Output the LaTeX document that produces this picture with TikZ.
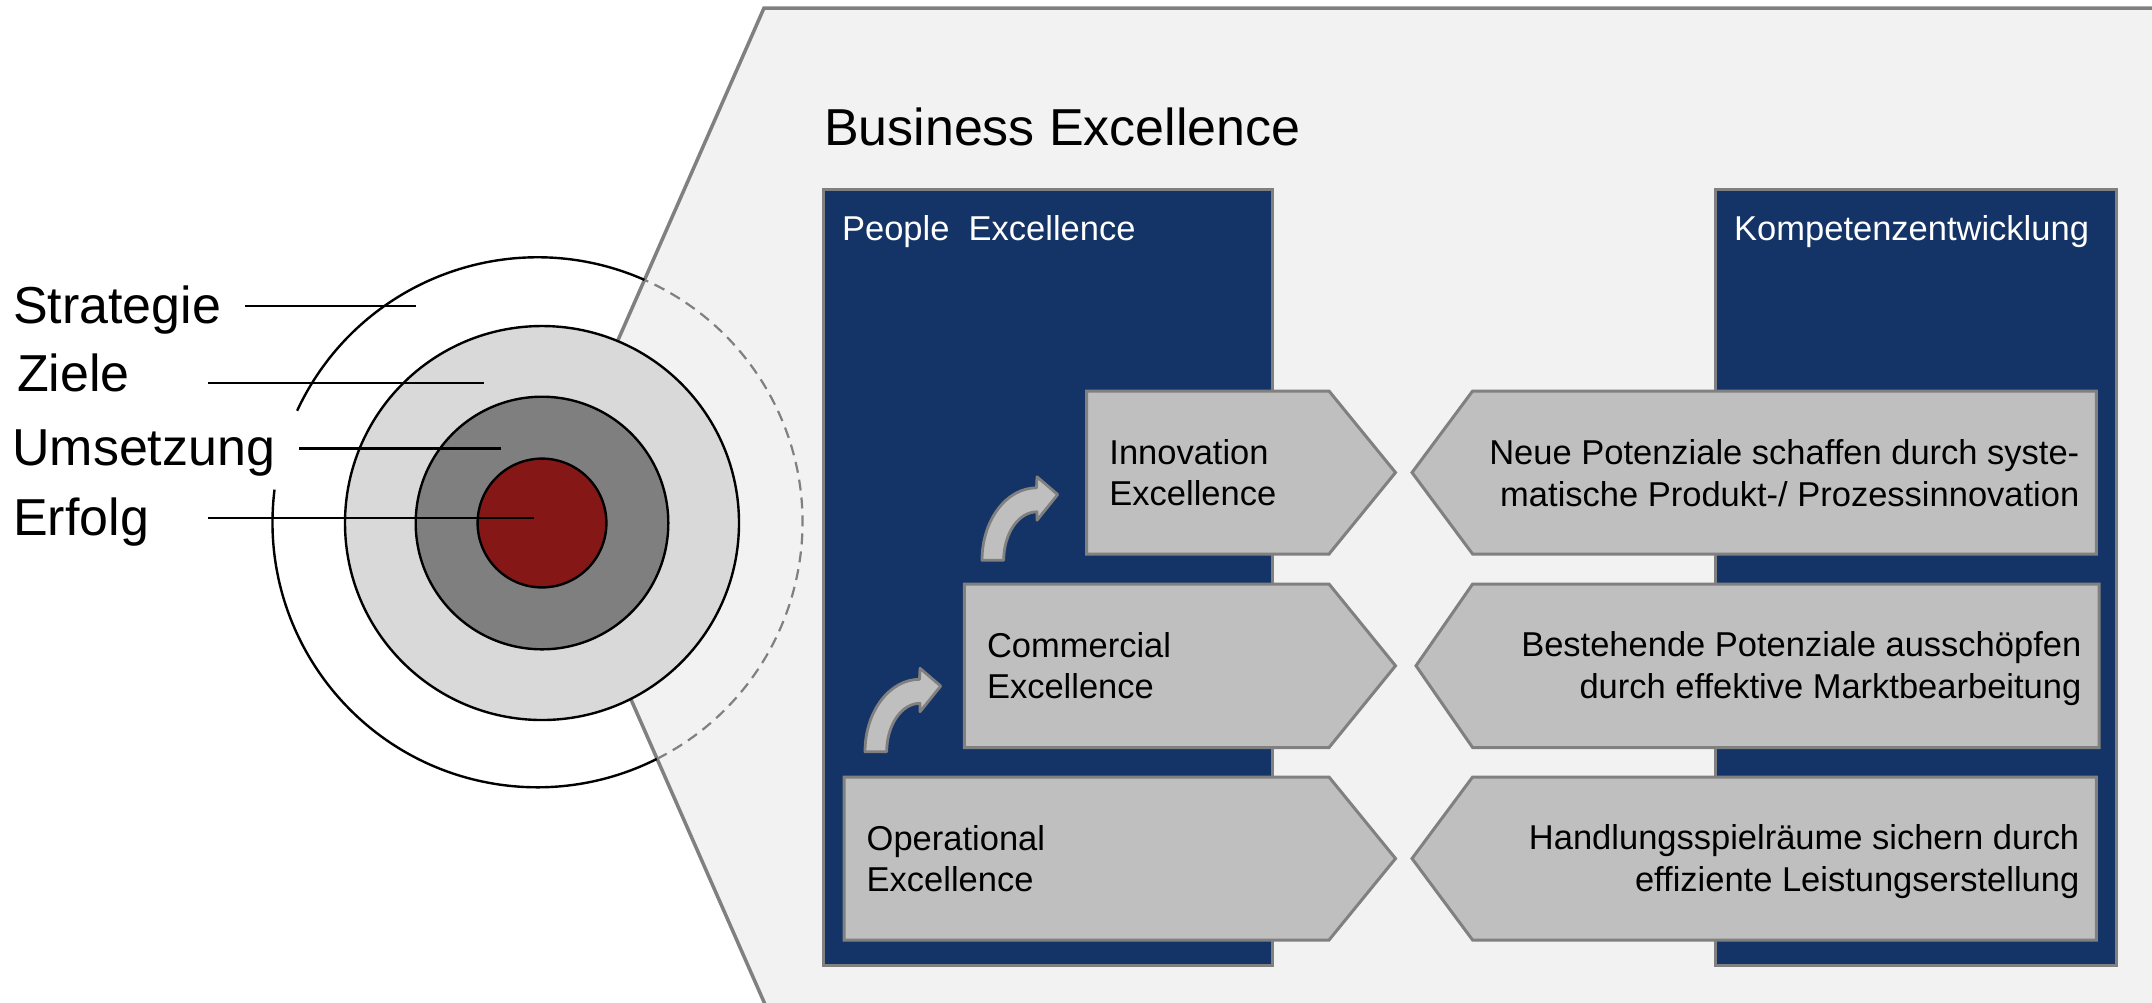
\documentclass[tikz,border=0pt]{standalone}
\usepackage{fontspec}
\setmainfont{Liberation Sans}
\definecolor{panelgrey}{HTML}{F2F2F2}
\definecolor{edgegrey}{HTML}{808080}
\definecolor{navy}{RGB}{20,51,102}
\definecolor{chevfill}{HTML}{BFBFBF}
\definecolor{ringlight}{HTML}{D9D9D9}
\definecolor{ringdark}{HTML}{7F7F7F}
\definecolor{corered}{RGB}{134,23,23}
\tikzset{
  panel/.style={fill=panelgrey, draw=edgegrey, line width=0.035cm, line join=miter},
  column/.style={fill=navy, draw=edgegrey, line width=0.03cm},
  chev/.style={fill=chevfill, draw=edgegrey, line width=0.03cm, line join=miter},
  arrowshape/.style={fill=chevfill, draw=edgegrey, line width=0.028cm, line join=round},
  ringline/.style={draw=black, line width=0.024cm},
  dashring/.style={draw=edgegrey, line width=0.022cm, dash pattern=on 0.11cm off 0.07cm},
  leader/.style={draw=black, line width=0.024cm},
  bigtxt/.style={font=\fontsize{14.78pt}{17.5pt}\selectfont, inner sep=0pt, anchor=base west},
  coltxt/.style={font=\fontsize{9.81pt}{11.8pt}\selectfont, text=white, inner sep=0pt, anchor=base west},
  chevtxtL/.style={font=\fontsize{9.81pt}{11.8pt}\selectfont, inner sep=0pt, anchor=west, align=left},
  chevtxtR/.style={font=\fontsize{9.81pt}{11.8pt}\selectfont, inner sep=0pt, anchor=east, align=right},
  bentarrow/.pic={
    \path[arrowshape] (0,0) .. controls (0,-40) and (24.4,-72.4) .. (54.5,-72.4)
      -- (55,-83.4) -- (75.7,-65.7) -- (55,-40) -- (55,-48.4)
      .. controls (36.6,-48.4) and (21.7,-26.7) .. (21.7,0) -- cycle;
  }
}
\begin{document}
\begin{tikzpicture}[x=0.01cm, y=-0.01cm]
\useasboundingbox (0,0) rectangle (2152,1002);
\clip (0,0) rectangle (2152,1002);
\fill[white] (0,0) rectangle (2152,1002);

% grey panel
\path[panel] (764,8) -- (2180,8) -- (2180,1030) -- (776.3,1030) -- (545.5,505) -- cycle;

% title
\node[bigtxt] (title) at (823.3,145.7) {Business Excellence};

% blue columns
\path[column] (823.4,189.4) rectangle (1272,965);
\path[column] (1715.5,189.4) rectangle (2116,965);
\node[coltxt] (people) at (841.4,240) {People\ \ Excellence};
\node[coltxt] (kompetenz) at (1733.5,240) {Kompetenzentwicklung};

% left chevrons
\path[chev] (1086.7,391) -- (1329,391) -- (1395.5,472.5) -- (1329,554) -- (1086.7,554) -- cycle;
\path[chev] (964.3,584) -- (1329,584) -- (1395.5,665.75) -- (1329,747.5) -- (964.3,747.5) -- cycle;
\path[chev] (844,777) -- (1329,777) -- (1395.5,858.5) -- (1329,940) -- (844,940) -- cycle;
\node[chevtxtL] (innov) at (1108.7,472.5) {Innovation\\Excellence};
\node[chevtxtL] (comm) at (986.3,665.75) {Commercial\\Excellence};
\node[chevtxtL] (oper) at (866,858.5) {Operational\\Excellence};

% right chevrons
\path[chev] (2096.4,391) -- (1472.6,391) -- (1412,472.5) -- (1472.6,554) -- (2096.4,554) -- cycle;
\path[chev] (2099,584) -- (1472.6,584) -- (1416,665.75) -- (1472.6,747.5) -- (2099,747.5) -- cycle;
\path[chev] (2096.4,777) -- (1472.6,777) -- (1412,858.5) -- (1472.6,940) -- (2096.4,940) -- cycle;
\node[chevtxtR] (neue) at (2080,473.3) {Neue Potenziale schaffen durch syste-\\matische Produkt-/ Prozessinnovation};
\node[chevtxtR] (besteh) at (2082,668.7) {Bestehende Potenziale ausschöpfen\\durch effektive Marktbearbeitung};
\node[chevtxtR] (handl) at (2080,861.7) {Handlungsspielräume sichern durch\\effiziente Leistungserstellung};

% bent arrows
\pic at (865,751.7) {bentarrow};
\pic at (982,560.2) {bentarrow};

% target circles
\path[ringline, fill=ringlight] (542,523) circle[radius=197];
\path[ringline, fill=ringdark] (542,523) circle[radius=126.3];
\path[ringline, fill=corered] (542,523) circle[radius=64.4];
\draw[ringline] (537.5,522.3) ++(293.85:265) arc[start angle=293.85, end angle=204.9, radius=265];
\draw[ringline] (537.5,522.3) ++(187.1:265) arc[start angle=187.1, end angle=63.2, radius=265];
\draw[dashring] (537.5,522.3) ++(63.2:265) arc[start angle=63.2, end angle=-66.15, radius=265];

% labels and leader lines
\node[bigtxt] (strat) at (12.5,323) {Strategie};
\node[bigtxt] (ziele) at (16.5,391.7) {Ziele};
\node[bigtxt] (umsetz) at (11.5,465) {Umsetzung};
\node[bigtxt] (erfolg) at (12.5,535) {Erfolg};
\coordinate (s1) at (244.8,305.8); \coordinate (s2) at (415.8,305.8);
\coordinate (z1) at (208,382.8);   \coordinate (z2) at (483.8,382.8);
\coordinate (u1) at (299,448.3);   \coordinate (u2) at (501,448.3);
\coordinate (e1) at (208,517.8);   \coordinate (e2) at (533.5,517.8);
\draw[leader] (s1) -- (s2);
\draw[leader] (z1) -- (z2);
\draw[leader] (u1) -- (u2);
\draw[leader] (e1) -- (e2);
\end{tikzpicture}
\end{document}
